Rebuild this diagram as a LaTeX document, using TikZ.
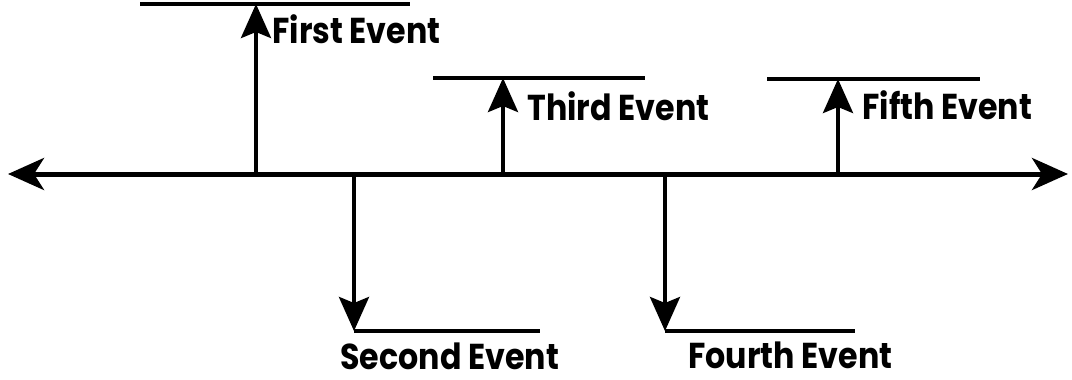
\documentclass[tikz,border=0pt]{standalone}
\usepackage{fontspec}
\setmainfont{Poppins}[FakeStretch=0.88]
\usetikzlibrary{arrows.meta,positioning}
\tikzset{font={\fontsize{18pt}{22}\selectfont\bfseries}}

\begin{document}
\begin{tikzpicture}[x=0.5pt,y=-0.5pt,
timeline/.style={line width=2.5pt,{Stealth[length=18pt,width=16pt,inset=5pt]}-{Stealth[length=18pt,width=16pt,inset=5pt]}},
event/.style={line width=2pt,-{Stealth[length=17pt,width=15pt,inset=3pt]}},
ledge/.style={line width=2pt},
evtext/.style={inner sep=0pt,anchor=base west}
]
\useasboundingbox (0,0) rectangle (1072,380);
\coordinate (west) at (8,174);
\coordinate (east) at (1068,174);
\draw[timeline] (west) -- (east);
% events above the line
\foreach \name/\x/\y/\a/\b/\tx/\ty/\txt in {first/256/4/140/410/272/43/First Event,third/503/78/433/645/527/120/Third Event,fifth/838/79/767/980/862/119/Fifth Event}{
\coordinate (\name-base) at (\x,174);
\coordinate (\name-tip) at (\x,\y);
\coordinate (\name-l) at (\a,\y);
\coordinate (\name-r) at (\b,\y);
\draw[ledge] (\name-l) -- (\name-r);
\draw[event] (\name-base) -- (\name-tip);
\node[evtext] (\name-text) at (\tx,\ty) {\txt};
}
% events below the line
\foreach \name/\x/\y/\a/\b/\tx/\ty/\txt in {second/354/331/354/540/340/369/Second Event,fourth/665/331/665/855/688/368/Fourth Event}{
\coordinate (\name-base) at (\x,174);
\coordinate (\name-tip) at (\x,\y);
\coordinate (\name-l) at (\a,\y);
\coordinate (\name-r) at (\b,\y);
\draw[ledge] (\name-l) -- (\name-r);
\draw[event] (\name-base) -- (\name-tip);
\node[evtext] (\name-text) at (\tx,\ty) {\txt};
}
\end{tikzpicture}
\end{document}
